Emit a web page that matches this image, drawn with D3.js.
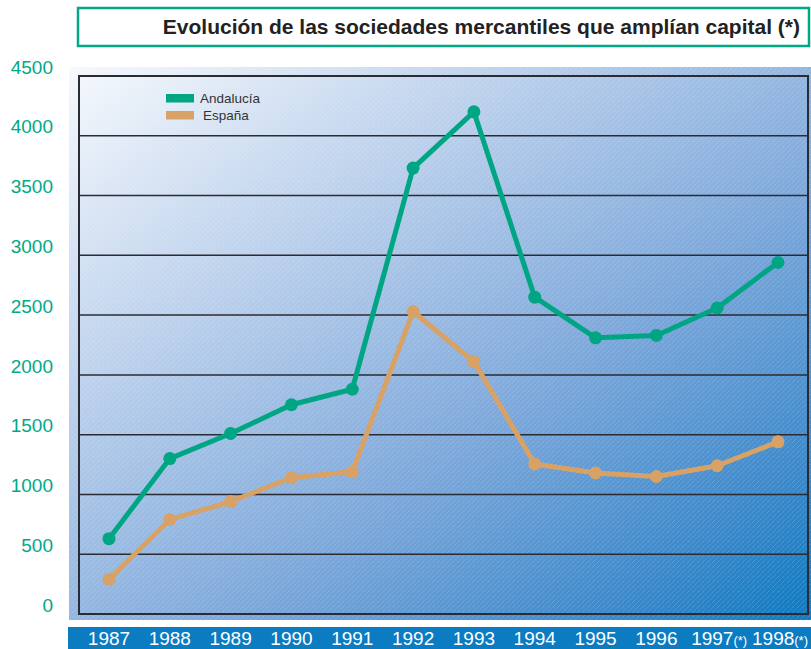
<!DOCTYPE html>
<html>
<head>
<meta charset="utf-8">
<script src="https://cdn.jsdelivr.net/npm/d3@7"></script>
<style>
  html, body { margin: 0; padding: 0; background: #ffffff; }
  svg { display: block; font-family: "Liberation Sans", Arial, sans-serif; }
</style>
</head>
<body>
<svg id="chart" width="811" height="649"></svg>
<script>
// Years and companies increasing capital, by region
const years = ["1987", "1988", "1989", "1990", "1991", "1992", "1993", "1994", "1995", "1996", "1997", "1998"];
const yearNotes = ["", "", "", "", "", "", "", "", "", "", "(*)", "(*)"];
const andalucia = [630, 1300, 1510, 1750, 1880, 3730, 4200, 2650, 2310, 2330, 2560, 2940];
const espana = [290, 790, 940, 1140, 1190, 2530, 2110, 1255, 1180, 1150, 1240, 1440];
const yTicks = [0, 500, 1000, 1500, 2000, 2500, 3000, 3500, 4000, 4500];
const seriesNames = ["Andalucía", "España"];

const svg = d3.select("#chart");
const green = "#00a583", tan = "#d8a266", teal = "#00a887";

const x = d3.scalePoint().domain(years).range([109, 778]);
const y = d3.scaleLinear().domain([0, 4500]).range([614, 76]);

const defs = svg.append("defs");
const grad = defs.append("linearGradient").attr("id", "bg")
  .attr("x1", "0%").attr("y1", "0%").attr("x2", "100%").attr("y2", "100%");
[["0%", "#f6f9fd"], ["30%", "#bcd1ec"], ["60%", "#7fa9db"], ["85%", "#3e8acb"], ["100%", "#0d7ac0"]]
  .forEach(([o, c]) => grad.append("stop").attr("offset", o).attr("stop-color", c));

// fine diagonal hatching over the plot backdrop
const pat = defs.append("pattern").attr("id", "hatch").attr("patternUnits", "userSpaceOnUse")
  .attr("width", 5).attr("height", 5);
pat.append("path").attr("d", "M-1,6 L6,-1").attr("stroke", "#ffffff")
  .attr("stroke-width", 0.8).attr("stroke-dasharray", "1,1").attr("opacity", 0.35);

// title box
svg.append("rect").attr("x", 78).attr("y", 8).attr("width", 731).attr("height", 38)
  .attr("fill", "#fff").attr("stroke", teal).attr("stroke-width", 2.5);
svg.append("text").attr("x", 800).attr("y", 34).attr("text-anchor", "end")
  .attr("font-size", 21).attr("font-weight", "bold").attr("fill", "#222")
  .text("Evolución de las sociedades mercantiles que amplían capital (*)");

// backdrop
svg.append("rect").attr("x", 69).attr("y", 67).attr("width", 742).attr("height", 553).attr("fill", "url(#bg)");
svg.append("rect").attr("x", 69).attr("y", 67).attr("width", 742).attr("height", 553).attr("fill", "url(#hatch)");

// gridlines
svg.append("g").selectAll("line").data(yTicks.filter(d => d > 0 && d < 4500)).join("line")
  .attr("x1", 79).attr("x2", 808).attr("y1", d => y(d)).attr("y2", d => y(d))
  .attr("stroke", "#2b2b33").attr("stroke-width", 1.5);

// frame
svg.append("rect").attr("x", 79).attr("y", y(4500)).attr("width", 729).attr("height", y(0) - y(4500))
  .attr("fill", "none").attr("stroke", "#2b2b33").attr("stroke-width", 2);

// y labels
svg.append("g").selectAll("text").data(yTicks).join("text")
  .attr("x", 53).attr("y", d => y(d) - 9).attr("dy", "0.35em").attr("text-anchor", "end")
  .attr("font-size", 19).attr("fill", teal).text(d => d);

// x band and labels
svg.append("rect").attr("x", 68).attr("y", 627).attr("width", 743).attr("height", 22).attr("fill", "#0b7bc2");
const xl = svg.append("g").selectAll("text").data(years).join("text")
  .attr("x", (d, i) => x(d) + (yearNotes[i] ? 2 : 0)).attr("y", 645).attr("text-anchor", "middle")
  .attr("font-size", 19).attr("fill", "#fff");
xl.append("tspan").text(d => d);
xl.append("tspan").attr("font-size", 13).text((d, i) => yearNotes[i]);

// series
const line = d3.line().x((d, i) => x(years[i])).y(d => y(d));
[[andalucia, green], [espana, tan]].forEach(([vals, col]) => {
  svg.append("path").datum(vals).attr("d", line).attr("fill", "none")
    .attr("stroke", col).attr("stroke-width", 5).attr("stroke-linejoin", "round");
  svg.append("g").selectAll("circle").data(vals).join("circle")
    .attr("cx", (d, i) => x(years[i])).attr("cy", d => y(d)).attr("r", 6.5).attr("fill", col);
});

// legend
const leg = svg.append("g");
[[seriesNames[0], green, 94, 200], [seriesNames[1], tan, 111, 203]].forEach(([name, col, yy, tx]) => {
  leg.append("rect").attr("x", 166).attr("y", yy).attr("width", 28).attr("height", 8.5).attr("fill", col);
  leg.append("text").attr("x", tx).attr("y", yy + 8.5).attr("font-size", 13.5).attr("fill", "#333").text(name);
});
</script>
</body>
</html>
